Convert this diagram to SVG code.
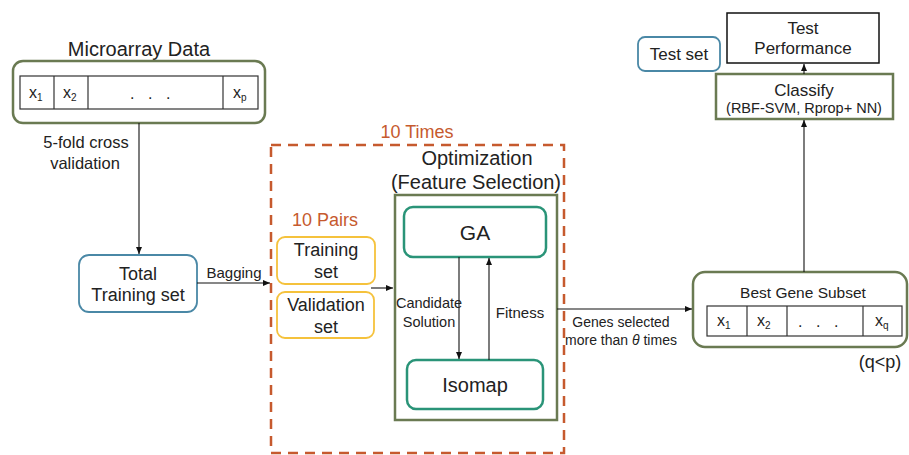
<svg xmlns="http://www.w3.org/2000/svg" width="909" height="455" viewBox="0 0 909 455">
<defs>
<marker id="arr" markerWidth="8" markerHeight="8" refX="7" refY="4" orient="auto" markerUnits="userSpaceOnUse">
<path d="M0,1 L7,4 L0,7 Z" fill="#111"/>
</marker>
<style>
text{font-family:"Liberation Sans",Arial,sans-serif;fill:#222;}
.t18{font-size:18px;}
.t17{font-size:17px;}
.t15{font-size:15px;}
.t14{font-size:14px;}
.or{fill:#C65A2E;}
.xv{font-size:16px;}
.sub{font-size:10px;}
.green{fill:#fff;stroke:#6A7A52;stroke-width:2.5;}
.blue{fill:#fff;stroke:#4A88A6;stroke-width:1.8;}
.yel{fill:#fff;stroke:#F5C23C;stroke-width:1.8;}
.teal{fill:#fff;stroke:#2A9478;stroke-width:2.5;}
.cell{fill:#fff;stroke:#333;stroke-width:1.2;}
.line{stroke:#111;stroke-width:1.1;fill:none;}
</style>
</defs>
<rect width="909" height="455" fill="#fff"/>

<g id="microarray">
<text x="139" y="56" text-anchor="middle" style="font-size:20px">Microarray Data</text>
<rect class="green" x="13" y="61" width="252" height="62" rx="10"/>
<rect class="cell" x="20" y="76" width="238" height="33"/>
<line class="cell" x1="54" y1="76" x2="54" y2="109"/>
<line class="cell" x1="88" y1="76" x2="88" y2="109"/>
<line class="cell" x1="223" y1="76" x2="223" y2="109"/>
<text x="29" y="98" class="xv">x<tspan class="sub" dy="3">1</tspan></text>
<text x="63" y="98" class="xv">x<tspan class="sub" dy="3">2</tspan></text>
<text x="130 148 166" y="99" class="xv">...</text>
<text x="233" y="98" class="xv">x<tspan class="sub" dy="3">p</tspan></text>
</g>

<g id="total">
<rect class="blue" x="79" y="255" width="118" height="57" rx="10"/>
<text x="138" y="280" class="t18" text-anchor="middle">Total</text>
<text x="138" y="301" class="t18" text-anchor="middle">Training set</text>
</g>

<g id="loop">
<rect x="271" y="145" width="293" height="308" fill="none" stroke="#C65A2E" stroke-width="2.5" stroke-dasharray="10,7"/>
<text x="417" y="138" class="t18 or" text-anchor="middle">10 Times</text>
</g>

<g id="pairs">
<text x="325" y="226" class="t18 or" text-anchor="middle">10 Pairs</text>
<rect class="yel" x="277" y="237" width="98" height="47" rx="8"/>
<text x="326" y="256" class="t18" text-anchor="middle">Training</text>
<text x="326" y="278" class="t18" text-anchor="middle">set</text>
<rect class="yel" x="277" y="292" width="97" height="46" rx="8"/>
<text x="326" y="311" class="t18" text-anchor="middle">Validation</text>
<text x="326" y="333" class="t18" text-anchor="middle">set</text>
</g>

<g id="optimization">
<text x="477" y="165" text-anchor="middle" style="font-size:20px">Optimization</text>
<text x="476" y="189" text-anchor="middle" style="font-size:20px">(Feature Selection)</text>
<rect x="395" y="195" width="162" height="225" fill="#fff" stroke="#6A7A52" stroke-width="2.5"/>
</g>

<g id="ga">
<rect class="teal" x="404" y="207" width="142" height="50" rx="9"/>
<text x="475" y="240" text-anchor="middle" style="font-size:21px">GA</text>
</g>

<g id="isomap">
<rect class="teal" x="407" y="360" width="136" height="49" rx="9"/>
<text x="475" y="392" text-anchor="middle" style="font-size:20px">Isomap</text>
</g>

<g id="best">
<rect class="green" x="693" y="272" width="214" height="75" rx="12"/>
<text x="803" y="298" class="t15" text-anchor="middle" style="font-size:15.5px">Best Gene Subset</text>
<rect class="cell" x="707" y="306" width="195" height="30"/>
<line class="cell" x1="747" y1="306" x2="747" y2="336"/>
<line class="cell" x1="787" y1="306" x2="787" y2="336"/>
<line class="cell" x1="863" y1="306" x2="863" y2="336"/>
<text x="717" y="326" class="xv">x<tspan class="sub" dy="3">1</tspan></text>
<text x="757" y="326" class="xv">x<tspan class="sub" dy="3">2</tspan></text>
<text x="798 816 834" y="327" class="xv">...</text>
<text x="875" y="326" class="xv">x<tspan class="sub" dy="3">q</tspan></text>
<text x="880" y="368" class="t18" text-anchor="middle">(q&lt;p)</text>
</g>

<g id="classify">
<rect x="716" y="74" width="177" height="45" fill="#fff" stroke="#6A7A52" stroke-width="2.5"/>
<text x="804" y="96" class="t17" text-anchor="middle">Classify</text>
<text x="804" y="113" text-anchor="middle" style="font-size:14.5px">(RBF-SVM, Rprop+ NN)</text>
</g>

<g id="testperf">
<rect x="727" y="13" width="152" height="50" fill="#fff" stroke="#111" stroke-width="1.5"/>
<text x="803" y="34" class="t17" text-anchor="middle">Test</text>
<text x="803" y="54" class="t17" text-anchor="middle">Performance</text>
</g>

<g id="testset">
<rect class="blue" x="638" y="37" width="82" height="34" rx="7"/>
<text x="679" y="60" class="t17" text-anchor="middle">Test set</text>
</g>

<g id="connectors">
<line class="line" x1="139" y1="123" x2="139" y2="254" marker-end="url(#arr)"/>
<text x="86" y="148" text-anchor="middle" style="font-size:16.5px">5-fold cross</text>
<text x="85" y="169" text-anchor="middle" style="font-size:16.5px">validation</text>
<line class="line" x1="197" y1="283" x2="270" y2="283" marker-end="url(#arr)"/>
<text x="234" y="278" class="t15" text-anchor="middle">Bagging</text>
<line class="line" x1="371" y1="288" x2="393" y2="288" marker-end="url(#arr)"/>
<line class="line" x1="459" y1="257" x2="459" y2="359" marker-end="url(#arr)"/>
<line class="line" x1="489" y1="360" x2="489" y2="258" marker-end="url(#arr)"/>
<text x="429" y="308" class="t15" text-anchor="middle" style="font-size:14.5px">Candidate</text>
<text x="429" y="327" class="t15" text-anchor="middle" style="font-size:14.5px">Solution</text>
<text x="520" y="318" class="t15" text-anchor="middle">Fitness</text>
<line class="line" x1="557" y1="309" x2="692" y2="309" marker-end="url(#arr)"/>
<text x="621" y="327" class="t14" text-anchor="middle">Genes selected</text>
<text x="621" y="345" class="t14" text-anchor="middle">more than <tspan font-style="italic">θ</tspan> times</text>
<line class="line" x1="804" y1="272" x2="804" y2="120" marker-end="url(#arr)"/>
<line class="line" x1="804" y1="74" x2="804" y2="64" marker-end="url(#arr)"/>
</g>
</svg>
